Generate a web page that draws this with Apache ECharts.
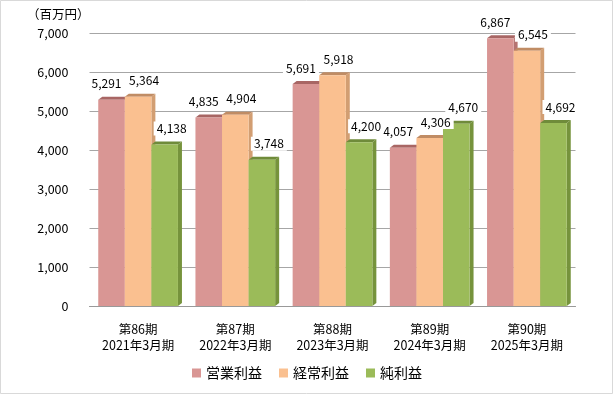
<!DOCTYPE html>
<html>
<head>
<meta charset="utf-8">
<script src="https://cdn.jsdelivr.net/npm/echarts@6/dist/echarts.min.js"></script>
<style>
html,body{margin:0;padding:0;background:#fff;}
#chart{width:614px;height:395px;}
</style>
</head>
<body>
<div id="chart"></div>
<script>
const categories = ['第86期\n2021年3月期', '第87期\n2022年3月期', '第88期\n2023年3月期', '第89期\n2024年3月期', '第90期\n2025年3月期'];
const seriesNames = ['営業利益', '経常利益', '純利益'];
const operatingProfit = [5291, 4835, 5691, 4057, 6867];
const ordinaryProfit = [5364, 4904, 5918, 4306, 6545];
const netProfit = [4138, 3748, 4200, 4670, 4692];
const yMin = 0, yMax = 7000, yStep = 1000;
const unitLabel = '（百万円）';

const values = [operatingProfit, ordinaryProfit, netProfit];
const frontColors = ['#D99694', '#FAC090', '#9BBB59'];
const topColors = ['#A86664', '#C08C64', '#6F8B3A'];
const sideColors = ['#B57472', '#D29E72', '#76933C'];
const labelOffsets = [[-5, 0], [6, 0], [7, 0]];
const GAP = 0.18;
const fontFam = '"Noto Sans CJK JP", "Noto Sans", sans-serif';
const fmt = v => Number(v).toLocaleString('en-US');

function make3D(idx) {
  return function (params, api) {
    const ci = api.value(0), v = api.value(1);
    const top = api.coord([ci, v]);
    const base = api.coord([ci, 0]);
    const band = api.size([1, 0])[0];
    const bw = band * (1 - GAP) / 3;
    const x0 = top[0] - 1.5 * bw + idx * bw;
    const x1 = x0 + bw;
    const dx = 4, dy = 3;
    return {
      type: 'group',
      children: [
        {type: 'polygon', shape: {points: [[x1, top[1]], [x1 + dx, top[1] - dy], [x1 + dx, base[1] - dy], [x1, base[1]]]}, style: {fill: sideColors[idx]}},
        {type: 'polygon', shape: {points: [[x0, top[1]], [x0 + dx, top[1] - dy], [x1 + dx, top[1] - dy], [x1, top[1]]]}, style: {fill: topColors[idx]}}
      ]
    };
  };
}

const series = [];
values.forEach((arr, i) => {
  series.push({
    name: seriesNames[i] + '_3d',
    type: 'custom',
    renderItem: make3D(i),
    data: arr.map((v, ci) => [ci, v]),
    encode: {x: 0, y: 1},
    z: 1,
    silent: true
  });
});
values.forEach((arr, i) => {
  series.push({
    name: seriesNames[i],
    type: 'bar',
    data: arr,
    barGap: '0%',
    barCategoryGap: (GAP * 100) + '%',
    itemStyle: {color: frontColors[i]},
    z: 3,
    label: {
      show: true,
      position: 'top',
      distance: 9,
      offset: labelOffsets[i],
      formatter: p => fmt(p.value),
      fontSize: 12,
      fontFamily: fontFam,
      color: '#000',
      backgroundColor: '#fff',
      padding: [1, 3]
    }
  });
});

const chart = echarts.init(document.getElementById('chart'), null, {renderer: 'canvas'});
chart.setOption({
  animation: false,
  backgroundColor: '#fff',
  textStyle: {fontFamily: fontFam},
  grid: {left: 89.5, right: 38.5, top: 33, bottom: 89, containLabel: false},
  legend: {
    data: seriesNames,
    left: 'center',
    top: 361,
    icon: 'rect',
    itemWidth: 9,
    itemHeight: 9,
    itemGap: 17,
    textStyle: {fontSize: 14, color: '#000', fontFamily: fontFam}
  },
  xAxis: {
    type: 'category',
    data: categories,
    axisLine: {show: true, lineStyle: {color: '#999'}},
    axisTick: {show: false},
    axisLabel: {fontSize: 12.5, color: '#000', margin: 15, lineHeight: 16, fontFamily: fontFam}
  },
  yAxis: {
    type: 'value',
    min: yMin,
    max: yMax,
    interval: yStep,
    name: unitLabel,
    nameLocation: 'end',
    nameGap: 12,
    nameTextStyle: {fontSize: 12.5, color: '#000', align: 'right', padding: [0, 0, 0, 0], fontFamily: fontFam},
    axisLine: {show: false},
    axisTick: {show: false},
    axisLabel: {fontSize: 12.5, color: '#000', margin: 21, formatter: v => fmt(v), fontFamily: fontFam},
    splitLine: {lineStyle: {color: '#A6A6A6', width: 1}}
  },
  graphic: [{
    type: 'rect',
    shape: {x: 0.5, y: 0.5, width: 612, height: 393},
    style: {fill: 'none', stroke: '#D9D9D9', lineWidth: 1},
    silent: true,
    z: 100
  }],
  series: series
});
</script>
</body>
</html>
